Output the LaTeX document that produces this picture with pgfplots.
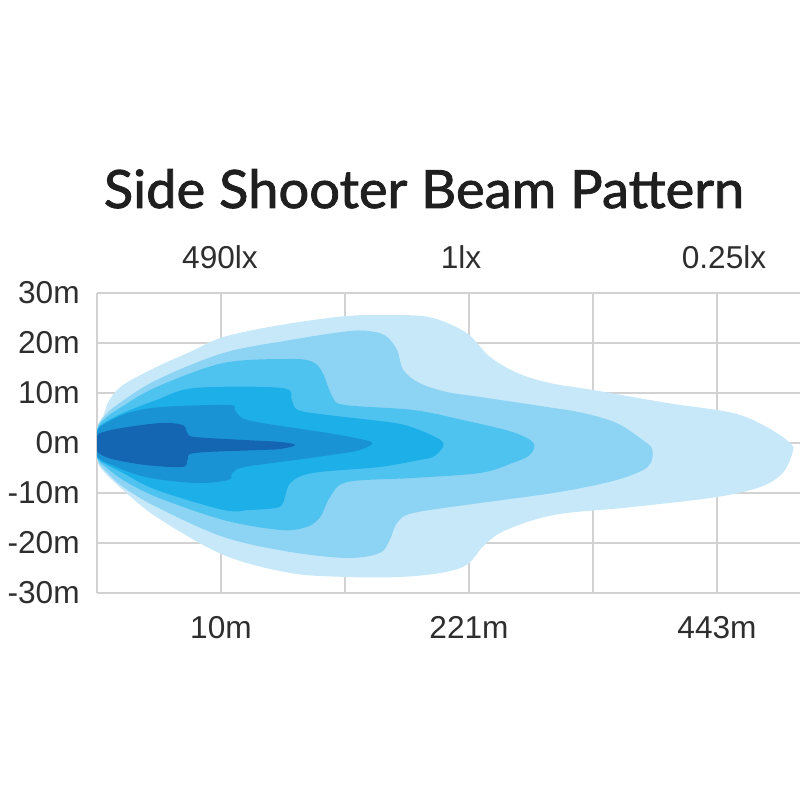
\documentclass[border=0pt]{standalone}
\usepackage{fontspec}
\setmainfont{Liberation Sans}
\newfontfamily\titlefont{Lato}[FakeBold=1.6, FakeStretch=1.03]
\usepackage{pgfplots}
\pgfplotsset{compat=1.18}
\definecolor{gridgray}{RGB}{210,210,210}
\definecolor{beamA}{HTML}{C6E8F9}
\definecolor{beamB}{HTML}{8DD4F4}
\definecolor{beamC}{HTML}{4FC3EF}
\definecolor{beamD}{HTML}{1DB0E8}
\definecolor{beamE}{HTML}{1A93D4}
\definecolor{beamF}{HTML}{1466B2}

\begin{document}
\begin{tikzpicture}
\useasboundingbox (-1.94,-4.14) rectangle (14.06,11.86);
\begin{axis}[
  at={(0,0)}, anchor=south west,
  x=2.48cm, y=0.1cm,
  xmin=0, xmax=5.669, ymin=-30, ymax=30,
  axis line style={draw=none},
  grid=major, grid style={gridgray, line width=0.7pt},
  major tick length=0pt,
  xtick={0,1,2,3,4,5}, xticklabels={,10m,,221m,,443m},
  ytick={-30,-20,-10,0,10,20,30},
  yticklabels={-30m,-20m,-10m,0m,10m,20m,30m},
  tick label style={font=\fontsize{18}{20}\selectfont, text=black!82},
  xticklabel style={anchor=base, yshift=-0.9cm},
  yticklabel style={anchor=east, inner sep=0pt, xshift=-0.34cm},
  every axis plot/.append style={draw=none, smooth, tension=0.55},
]
% 0.25 lx zone
\addplot[fill=beamA] coordinates {
(0,0) (0.005,3.4) (0.05,5.4) (0.10,8.6) (0.21,11.6) (0.48,15.2) (0.75,18.2)
(1.02,21.2) (1.48,23.6) (2.02,25.4) (2.44,25.6) (2.71,25) (2.98,22)
(3.17,17.2) (3.39,14) (3.65,12) (4.0,10.6) (4.6,8) (5.13,6) (5.4,3.2)
(5.59,0) (5.61,-1.8) (5.53,-6) (5.35,-8.8) (5.0,-10.8) (4.32,-12.8)
(3.79,-14) (3.52,-15.4) (3.25,-18) (3.11,-20.8) (2.98,-24.4) (2.77,-26)
(2.44,-26.8) (2.02,-26.8) (1.56,-26) (1.02,-22.4) (0.48,-14.8) (0.21,-9.4)
(0.05,-5.6) (0.005,-3.6) (0,0)} -- cycle;
% 1 lx zone
\addplot[fill=beamB] coordinates {
(0,0) (0.005,3.2) (0.06,5.4) (0.16,7.6) (0.48,12.6) (1.02,18) (1.56,20.6) (2.04,22.4)
(2.24,22.2) (2.34,21.2) (2.42,18.6) (2.47,14.6) (2.6,12) (2.82,10.2)
(3.09,9.2) (3.63,7.2) (3.92,6) (4.19,4) (4.4,0.6) (4.48,-1.4) (4.44,-4.8)
(4.19,-7.4) (3.73,-9.8) (3.09,-12) (2.55,-14) (2.42,-16) (2.36,-19.4)
(2.28,-22) (2.02,-23) (1.56,-21.8) (1.02,-18.8) (0.48,-12.8) (0.21,-8.8)
(0.06,-5.4) (0.005,-3.4) (0,0)} -- cycle;
\addplot[fill=beamC] coordinates {
(0,0) (0.005,3) (0.07,5) (0.21,7.4) (0.48,11.2) (1.02,16) (1.56,16.8) (1.74,16.2)
(1.82,14) (1.9,9.2) (2.0,7.6) (2.55,6.6) (2.95,4.6) (3.35,2.2) (3.52,0)
(3.49,-2.4) (3.35,-4) (3.09,-6) (2.55,-7) (2.02,-7.8) (1.88,-10.8)
(1.8,-14.8) (1.69,-16.8) (1.48,-17.4) (1.02,-15.4) (0.48,-10.8)
(0.21,-7.4) (0.07,-4.8) (0.005,-3.2) (0,0)} -- cycle;
\addplot[fill=beamD] coordinates {
(0,0) (0.005,2.8) (0.07,4.2) (0.21,6) (0.48,8.6) (0.79,11) (1.49,11) (1.57,8.6)
(1.62,6.6) (1.86,5.6) (2.4,4) (2.6,2.6) (2.77,0.6) (2.79,-0.8) (2.71,-2.8)
(2.6,-3.4) (2.28,-4.8) (1.74,-6) (1.56,-8) (1.5,-12) (1.44,-13)
(1.23,-13.4) (1.02,-13.4) (0.48,-9.4) (0.21,-6) (0.07,-4.2) (0.005,-3) (0,0)} -- cycle;
\addplot[fill=beamE] coordinates {
(0,0) (0.005,2.6) (0.06,3.8) (0.25,6) (0.52,7.2) (1.06,7.6) (1.11,6.6) (1.17,5)
(1.33,4) (1.86,2) (2.16,0.6) (2.22,-0.2) (2.12,-1.4) (2.0,-2) (1.6,-3.4)
(1.19,-4.8) (1.09,-6) (1.06,-7.4) (0.79,-8) (0.39,-6.8) (0.12,-4.4)
(0.005,-2.8) (0,0)} -- cycle;
% 490 lx zone
\addplot[fill=beamF] coordinates {
(0,0) (0.005,1.6) (0.08,2.4) (0.25,3.2) (0.52,4) (0.69,3.6) (0.73,2) (0.79,1.2)
(1.19,0.6) (1.48,0.2) (1.6,-0.4) (1.48,-1.2) (1.33,-1.4) (0.79,-2)
(0.73,-3.4) (0.69,-4.8) (0.39,-4.4) (0.12,-3.2) (0.005,-1.8) (0,0)} -- cycle;
\end{axis}
\node[anchor=base, font=\titlefont\fontsize{30}{34}\selectfont, text=black!88]
  at (6.54,7.70) {Side Shooter Beam Pattern};
\begin{scope}[every node/.style={anchor=base, font=\fontsize{18}{20}\selectfont, text=black!82}]
\node at (2.46,6.48) {490lx};
\node at (7.28,6.48) {1lx};
\node at (12.54,6.48) {0.25lx};
\end{scope}
\end{tikzpicture}
\end{document}
